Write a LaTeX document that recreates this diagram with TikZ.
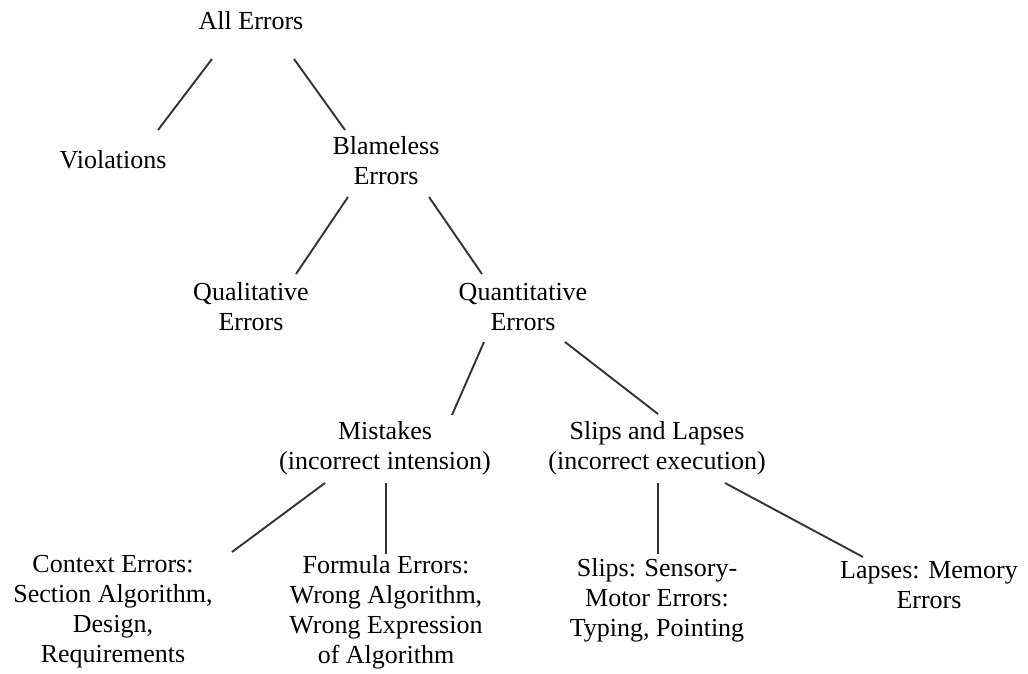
\documentclass[tikz,border=0pt]{standalone}
\usepackage{fontspec}
\setmainfont{Liberation Serif}
\usepackage{tikz}

\begin{document}
\begin{tikzpicture}[x=1pt,y=-1pt,
    lbl/.style={align=center,inner sep=0pt,font=\fontsize{26}{30}\selectfont},
    edge/.style={line width=1.9pt,draw=black!80}]
    \useasboundingbox (0,0) rectangle (1028,674);
    % Root
    \node[lbl] (all) at (251,21) {All Errors};
    % Level 1
    \node[lbl] (viol)  at (113,160) {Violations};
    \node[lbl] (blame) at (386,161) {Blameless\\Errors};
    % Level 2
    \node[lbl] (qual)  at (251,307) {Qualitative\\Errors};
    \node[lbl] (quant) at (523,307) {Quantitative\\Errors};
    % Level 3
    \node[lbl] (mist)  at (385,448) {Mistakes\\(incorrect intension)};
    \node[lbl] (slips) at (657,448) {Slips and Lapses\\(incorrect execution)};
    % Leaves
    \node[lbl] (ctx)  at (113,612) {Context Errors:\\Section Algorithm,\\Design,\\Requirements};
    \node[lbl] (form) at (386,612) {Formula Errors:\\Wrong Algorithm,\\Wrong Expression\\of Algorithm};
    \node[lbl] (sens) at (657,600) {Slips: Sensory-\\Motor Errors:\\Typing, Pointing};
    \node[lbl] (laps) at (929,585) {Lapses: Memory\\Errors};
    % Branches
    \draw[edge] ([shift={(-39,38)}]all.center) -- ([shift={(45,-30)}]viol.center);
    \draw[edge] ([shift={(43,38)}]all.center) -- ([shift={(-41,-31)}]blame.center);
    \draw[edge] ([shift={(-38,36)}]blame.center) -- ([shift={(45,-33)}]qual.center);
    \draw[edge] ([shift={(43,36)}]blame.center) -- ([shift={(-41,-33)}]quant.center);
    \draw[edge] ([shift={(-39,35)}]quant.center) -- ([shift={(67,-33)}]mist.center);
    \draw[edge] ([shift={(42,35)}]quant.center) -- ([shift={(1,-34)}]slips.center);
    \draw[edge] ([shift={(-60,35)}]mist.center) -- ([shift={(119,-60)}]ctx.center);
    \draw[edge] ([shift={(1,35)}]mist.center) -- ([shift={(0,-58)}]form.center);
    \draw[edge] ([shift={(1,35)}]slips.center) -- ([shift={(1,-46)}]sens.center);
    \draw[edge] ([shift={(68,35)}]slips.center) -- ([shift={(-66,-28)}]laps.center);
\end{tikzpicture}
\end{document}
